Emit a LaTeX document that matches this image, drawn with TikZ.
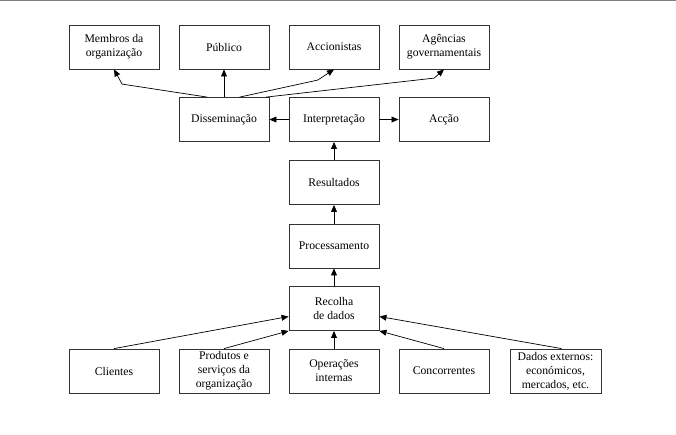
\documentclass[tikz,border=0pt]{standalone}
\usepackage{fontspec}
\setmainfont{Liberation Serif}
\usetikzlibrary{arrows.meta,positioning}

\begin{document}
\begin{tikzpicture}[
    x=0.03cm, y=-0.03cm,
    box/.style={draw=black!80, line width=0.7pt, minimum width=2.7cm, minimum height=1.32cm, align=center, font=\fontsize{10}{12}\selectfont, inner sep=1pt},
    arr/.style={-{Triangle[length=6pt, width=5pt]}, line width=0.6pt}
]
\useasboundingbox (0,0) rectangle (676,434);
\draw[black!50, line width=1pt] (0,0.8) -- (676,0.8);

% destinatarios
\node[box] (membros) at (114,47) {Membros da\\organização};
\node[box] (publico) at (224,47) {Público};
\node[box] (accion) at (334,47) {Accionistas};
\node[box] (agencias) at (444,47) {Agências\\governamentais};

% fluxo central
\node[box] (dissem) at (224,119.5) {Disseminação};
\node[box] (interp) at (334,119.5) {Interpretação};
\node[box] (accao) at (444,119.5) {Acção};
\node[box] (result) at (334,182.5) {Resultados};
\node[box] (proc) at (334,246) {Processamento};
\node[box] (recolha) at (334,308.5) {Recolha\\de dados};

% fontes
\node[box] (clientes) at (114,371) {Clientes};
\node[box] (produtos) at (224,371) {Produtos e\\serviços da\\organização};
\node[box] (oper) at (334,371) {Operações\\internas};
\node[box] (concorr) at (444,371) {Concorrentes};
\node[box, minimum width=2.73cm] (dados) at (555.5,371) {Dados externos:\\económicos,\\mercados, etc.};

\draw[arr] (interp) -- (dissem);
\draw[arr] (interp) -- (accao);
\draw[arr] (result) -- (interp);
\draw[arr] (proc) -- (result);
\draw[arr] (recolha) -- (proc);

\draw[arr] (clientes.north) -- (recolha.190);
\draw[arr] (produtos.north) -- (recolha.south west);
\draw[arr] (oper) -- (recolha);
\draw[arr] (concorr.north) -- (recolha.south east);
\draw[arr] (dados.75) -- (recolha.350);

\draw[arr] (dissem.127) -- ++(-85,-13) -- (membros.south);
\draw[arr] (dissem.north) -- (publico.south);
\draw[arr] (dissem.55) -- ++(78,-17) -- (accion.south);
\draw[arr] (dissem.28) -- ++(168,-19) -- (agencias.south);
\end{tikzpicture}
\end{document}
